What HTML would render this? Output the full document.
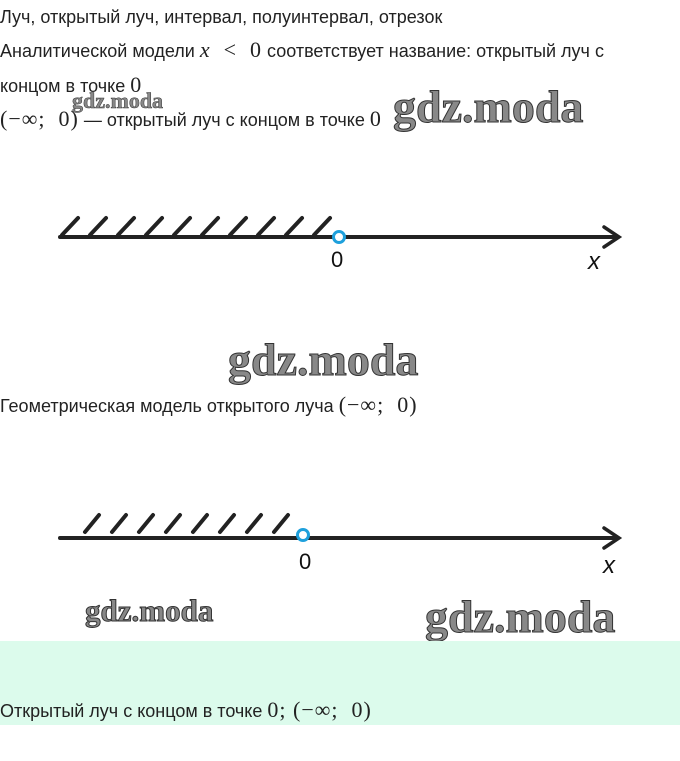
<!DOCTYPE html>
<html><head><meta charset="utf-8"><style>
body{margin:0;width:680px;height:761px;background:#fff;position:relative;overflow:hidden;font-family:"Liberation Sans","DejaVu Sans",sans-serif;color:#222;font-size:18px}
.t{position:absolute;left:0;white-space:nowrap}
.m{font-family:"Liberation Serif",serif;font-size:22px;letter-spacing:1px}
.wm{position:absolute;font-family:"Liberation Serif",serif;font-weight:bold;color:#888;-webkit-text-stroke:1px #333;white-space:nowrap}
</style></head><body>
<div class="t" style="top:7px">Луч, открытый луч, интервал, полуинтервал, отрезок</div>
<div class="t" style="top:37px">Аналитической модели <span class="m"><i>x</i> &nbsp;&lt;&nbsp; 0</span> соответствует название: открытый луч с</div>
<div class="t" style="top:72px">концом в точке <span class="m">0</span></div>
<div class="t" style="top:106px"><span class="m">(−∞;&nbsp; 0)</span> — открытый луч с концом в точке <span class="m">0</span></div>
<div class="wm" style="left:72px;top:88px;font-size:22px;-webkit-text-stroke:0.5px #333">gdz.moda</div>
<div class="wm" style="left:393px;top:80px;font-size:46px">gdz.moda</div>
<div class="wm" style="left:228px;top:333px;font-size:46px">gdz.moda</div>
<div class="t" style="top:392px">Геометрическая модель открытого луча <span class="m">(−∞;&nbsp; 0)</span></div>
<div class="wm" style="left:85px;top:593px;font-size:31px">gdz.moda</div>
<div class="wm" style="left:425px;top:590px;font-size:46px">gdz.moda</div>
<div style="position:absolute;left:0;top:641px;width:680px;height:84px;background:#dcfbec"></div>
<div class="t" style="top:697px">Открытый луч с концом в точке <span class="m">0; (−∞;&nbsp; 0)</span></div>
<svg style="position:absolute;left:0;top:0" width="680" height="761">
<g stroke="#222" stroke-width="4" fill="none" stroke-linecap="round">
<line x1="60" y1="237" x2="618" y2="237"/>
<polyline points="604,227 619,237 604,247" stroke-width="3.5"/>
<path d="M62 235L78 218M90 235L106 218M118 235L134 218M146 235L162 218M174 235L190 218M202 235L218 218M230 235L246 218M258 235L274 218M286 235L302 218M314 235L330 218"/>
<line x1="60" y1="538" x2="618" y2="538"/>
<polyline points="604,528 619,538 604,548" stroke-width="3.5"/>
<path d="M85 532L99 515M112 532L126 515M139 532L153 515M166 532L180 515M193 532L207 515M220 532L234 515M247 532L261 515M274 532L288 515"/>
</g>
<circle cx="339" cy="237" r="5.5" fill="#fff" stroke="#1ea0dc" stroke-width="3"/>
<circle cx="303" cy="535" r="5.5" fill="#fff" stroke="#1ea0dc" stroke-width="3"/>
<g font-family="Liberation Sans,sans-serif" font-size="22" fill="#111">
<text x="331" y="267">0</text>
<text x="588" y="269" font-style="italic" font-size="24">x</text>
<text x="299" y="569">0</text>
<text x="603" y="573" font-style="italic" font-size="24">x</text>
</g>
</svg>
</body></html>
